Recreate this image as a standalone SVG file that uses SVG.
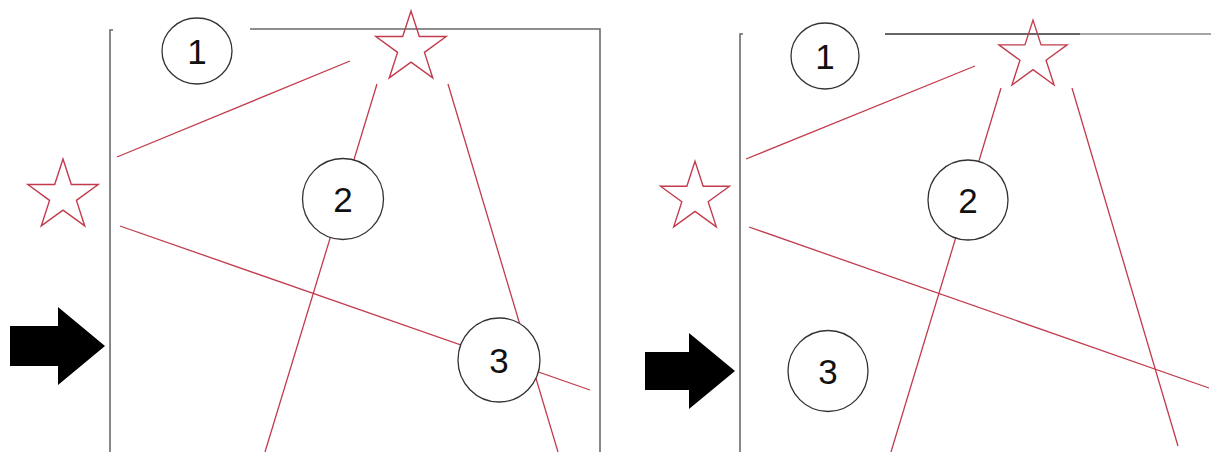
<svg xmlns="http://www.w3.org/2000/svg" xmlns:xlink="http://www.w3.org/1999/xlink" width="1211" height="452" viewBox="0 0 1211 452">
<style>
.frame{stroke:#6a6a6a;stroke-width:1.6;fill:none}
.ray{stroke:#c23b4c;stroke-width:1.3;fill:none}
.star{stroke:#c23b4c;stroke-width:1.4;fill:none;stroke-linejoin:miter}
.num circle,.num ellipse{fill:#fff;stroke:#333;stroke-width:1.3}
.num text{font-family:"Liberation Sans",Arial,sans-serif;font-size:35px;fill:#111;text-anchor:middle}
.arrow{fill:#000}
</style>
<defs>
<polygon id="starShape" points="0,-37 8.31,-11.43 35.19,-11.43 13.44,4.37 21.75,29.93 0,14.13 -21.75,29.93 -13.44,4.37 -35.19,-11.43 -8.31,-11.43"/>
</defs>
<rect width="1211" height="452" fill="#fff"/>

<g id="frames">
<path class="frame" d="M113,30 H110 V452"/>
<path class="frame" d="M250,29 H600 V452"/>
<path class="frame" d="M743,34 H740 V452"/>
<path d="M885,34 H1080" stroke="#333" stroke-width="1.6"/>
<path d="M1080,34 H1211" stroke="#888" stroke-width="1.6"/>
</g>

<g id="connectors">
<line class="ray" x1="117" y1="157" x2="350" y2="61"/>
<line class="ray" x1="120" y1="226" x2="590" y2="390"/>
<line class="ray" x1="377" y1="84" x2="265" y2="452"/>
<line class="ray" x1="448" y1="84" x2="558" y2="452"/>
<line class="ray" x1="746" y1="159" x2="975" y2="66"/>
<line class="ray" x1="749" y1="227" x2="1209" y2="388"/>
<line class="ray" x1="1001" y1="88" x2="891" y2="452"/>
<line class="ray" x1="1072" y1="88" x2="1178" y2="446"/>
</g>

<g id="star-left-a"><use xlink:href="#starShape" class="star" transform="translate(63,196)"/></g>
<g id="star-top-a"><use xlink:href="#starShape" class="star" transform="translate(411,48)"/></g>
<g id="star-left-b"><use xlink:href="#starShape" class="star" transform="translate(695,197.5) scale(0.98)"/></g>
<g id="star-top-b"><use xlink:href="#starShape" class="star" transform="translate(1033,56) scale(0.97)"/></g>

<g id="num1-a" class="num"><ellipse cx="197" cy="51" rx="35" ry="33"/><text x="197" y="64">1</text></g>
<g id="num2-a" class="num"><circle cx="343" cy="199" r="40.5"/><text x="343" y="212">2</text></g>
<g id="num3-a" class="num"><ellipse cx="499" cy="360" rx="41" ry="42"/><text x="499" y="373">3</text></g>

<g id="num1-b" class="num"><ellipse cx="825" cy="56" rx="34" ry="33"/><text x="825" y="69">1</text></g>
<g id="num2-b" class="num"><circle cx="968" cy="200" r="40"/><text x="968" y="213">2</text></g>
<g id="num3-b" class="num"><ellipse cx="828" cy="371" rx="40" ry="40.5"/><text x="828" y="384">3</text></g>

<g id="arrow-a"><polygon class="arrow" points="10,326 58,326 58,307 105,346 58,385 58,366 10,366"/></g>
<g id="arrow-b"><polygon class="arrow" points="645,352 689,352 689,333 735,371 689,409 689,390 645,390"/></g>
</svg>
